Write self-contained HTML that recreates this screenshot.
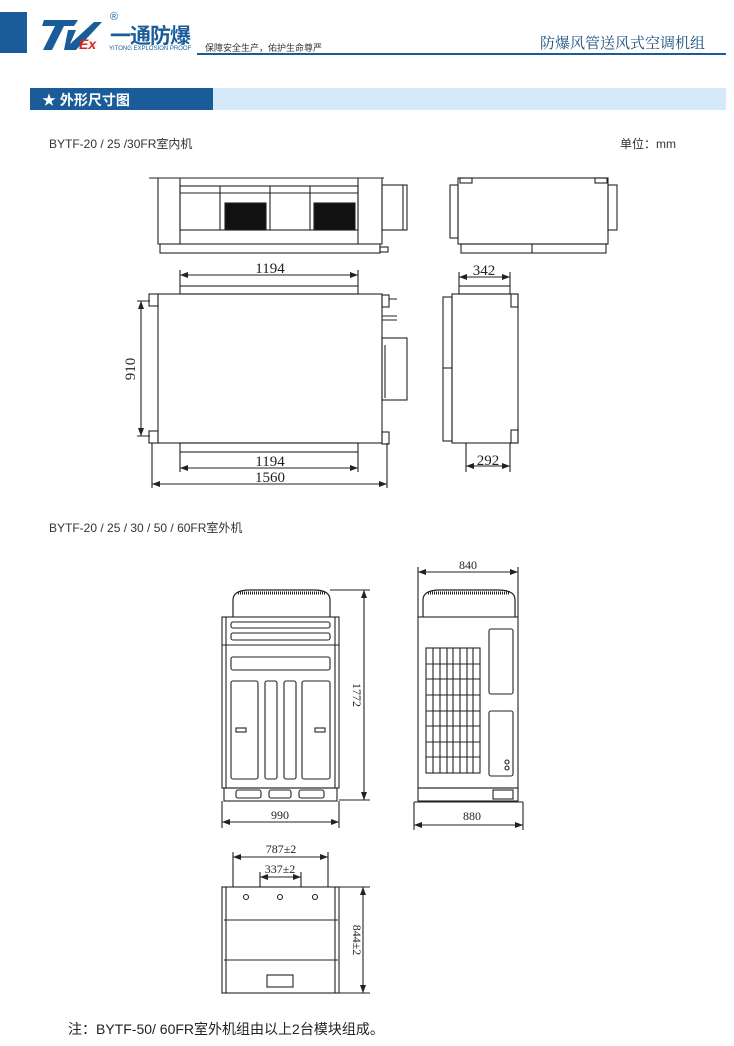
<!DOCTYPE html>
<html><head><meta charset="utf-8"><style>
html,body{margin:0;padding:0;background:#fff;}
body{width:734px;height:1046px;position:relative;overflow:hidden;font-family:"Liberation Sans","Noto Sans CJK SC",sans-serif;}
.a{position:absolute;white-space:nowrap;}
</style></head><body>
<div class="a" style="left:0;top:12px;width:27px;height:41px;background:#1a5c99"></div>
<svg class="a" style="left:40px;top:18px" width="64" height="36"><polygon points="4,2 38,2 34,8 24,8 12,32 3,32 15,8 2,8" fill="#1a5c99"/><polygon points="28,12 36,12 30,26 54,4 62,4 36,32 24,32" fill="#1a5c99"/></svg>
<div class="a" style="left:79px;top:36px;font:italic bold 14px 'Liberation Sans';color:#d9261c">Ex</div>
<div class="a" style="left:110px;top:11px;font-size:11px;color:#1a5c99">®</div>
<div class="a" style="left:110px;top:20px;font-size:21px;font-weight:bold;color:#1a5c99;letter-spacing:-1px">一通防爆</div>
<div class="a" style="left:109px;top:46px;font-size:6px;color:#1a5c99">YITONG EXPLOSION PROOF</div>
<div class="a" style="left:205px;top:41px;font-size:9px;color:#333">保障安全生产，佑护生命尊严</div>
<div class="a" style="left:197px;top:53px;width:529px;height:2px;background:#1a5c99"></div>
<div class="a" style="left:540px;top:32px;font:15px 'Noto Serif CJK SC',serif;color:#1a4f80">防爆风管送风式空调机组</div>
<div class="a" style="left:30px;top:88px;width:183px;height:22px;background:#1a5c99"></div>
<div class="a" style="left:213px;top:88px;width:513px;height:22px;background:#d6e9f8"></div>
<div class="a" style="left:42px;top:90px;font-size:14px;font-weight:bold;color:#fff">★ 外形尺寸图</div>
<div class="a" style="left:49px;top:135px;font-size:12px;color:#333">BYTF-20 / 25 /30FR室内机</div>
<div class="a" style="left:620px;top:135px;font-size:12px;color:#333">单位：mm</div>
<div class="a" style="left:49px;top:519px;font-size:12px;color:#333">BYTF-20 / 25 / 30 / 50 / 60FR室外机</div>
<div class="a" style="left:68px;top:1019px;font-size:14px;color:#222">注：BYTF-50/ 60FR室外机组由以上2台模块组成。</div>
<svg class="a" style="left:0;top:0" width="734" height="1046" fill="none" stroke="#222" stroke-width="1.1">
<defs><marker id="m" markerUnits="userSpaceOnUse" markerWidth="8" markerHeight="6" refX="8" refY="3" orient="auto-start-reverse"><path d="M0,0L8,3L0,6z" fill="#222" stroke="none"/></marker></defs>
<g font-family="Liberation Serif" font-size="15" fill="#222" stroke="none" text-anchor="middle">
<text x="270" y="273">1194</text><text x="270" y="466">1194</text><text x="270" y="482">1560</text>
<text x="484" y="275">342</text><text x="488" y="465">292</text>
<text x="135" y="369" transform="rotate(-90 135 369)">910</text>
</g>
<g font-family="Liberation Serif" font-size="12" fill="#222" stroke="none" text-anchor="middle">
<text x="468" y="569">840</text><text x="280" y="819">990</text><text x="472" y="820">880</text>
<text x="281" y="853">787±2</text><text x="280" y="873">337±2</text>
<text x="353" y="695" transform="rotate(90 353 695)">1772</text>
<text x="353" y="940" transform="rotate(90 353 940)">844±2</text>
</g>
<g marker-start="url(#m)" marker-end="url(#m)">
<path d="M180,275H358"/><path d="M141,301V436"/><path d="M180,468H358"/><path d="M152,484H387"/>
<path d="M459,277H510"/><path d="M466,466H510"/>
<path d="M364,590V800"/><path d="M222,822H339"/><path d="M418,572H518"/><path d="M414,825H523"/>
<path d="M233,857H328"/><path d="M260,877H301"/><path d="M363,887V993"/>
</g>
<path d="M180,270V286M358,270V286M137,301H150M137,436H150M180,452V472M358,452V472M152,443V488M387,443V488M459,272V286M510,272V286M466,443V472M510,443V472"/>
<path d="M330,590H370M339,800H370M222,801V828M339,801V828M418,567V617M518,567V617M414,802V830M523,802V830M233,852V887M328,852V887M260,872V887M301,872V887M339,887H370M339,993H370"/>
<path d="M149,178H384M158,178V244H382V178"/>
<rect x="180" y="186" width="178" height="44"/><path d="M180,178V244M358,178V244M220,186V230M270,186V230M310,186V230M180,193H358"/>
<rect x="225" y="203" width="41" height="27" fill="#111"/><rect x="314" y="203" width="41" height="27" fill="#111"/>
<rect x="160" y="244" width="220" height="9"/><rect x="382" y="185" width="25" height="45"/><path d="M403,185V230"/><rect x="380" y="247" width="8" height="5"/>
<rect x="458" y="178" width="150" height="66"/><rect x="450" y="185" width="8" height="53"/><rect x="608" y="185" width="9" height="45"/>
<rect x="461" y="244" width="145" height="9"/><path d="M532,244V253"/><rect x="460" y="178" width="12" height="5"/><rect x="595" y="178" width="12" height="5"/>
<rect x="158" y="294" width="224" height="149"/><rect x="180" y="286" width="178" height="8"/><rect x="180" y="443" width="178" height="9"/>
<rect x="149" y="294" width="9" height="12"/><rect x="149" y="431" width="9" height="12"/><rect x="382" y="295" width="7" height="12"/><rect x="382" y="432" width="7" height="12"/>
<path d="M389,299H397M382,316H397M382,320H397"/><rect x="382" y="338" width="25" height="62"/><path d="M385,345V398"/>
<rect x="452" y="294" width="66" height="149"/><rect x="443" y="297" width="9" height="144"/><path d="M443,368H452"/><rect x="459" y="286" width="51" height="8"/>
<rect x="511" y="294" width="7" height="13"/><rect x="511" y="430" width="7" height="13"/>
<path d="M233,617V600Q233,590 250,590H314Q330,590 330,600V617" stroke-width="1.2"/><path d="M238,593H326" stroke-width="3" stroke-dasharray="1,1"/>
<rect x="222" y="617" width="117" height="171"/><path d="M226,617V788M335,617V788M222,645H339"/>
<rect x="231" y="622" width="99" height="6" rx="2"/><rect x="231" y="633" width="99" height="7" rx="2"/><rect x="231" y="657" width="99" height="13" rx="2"/>
<rect x="231" y="681" width="27" height="98" rx="2"/><rect x="265" y="681" width="12" height="98" rx="2"/><rect x="284" y="681" width="12" height="98" rx="2"/><rect x="302" y="681" width="28" height="98" rx="2"/>
<rect x="236" y="728" width="10" height="4"/><rect x="315" y="728" width="10" height="4"/>
<rect x="224" y="788" width="113" height="13"/><rect x="236" y="790" width="25" height="8" rx="2"/><rect x="269" y="790" width="22" height="8" rx="2"/><rect x="299" y="790" width="25" height="8" rx="2"/>
<path d="M423,617V600Q423,590 440,590H498Q515,590 515,600V617" stroke-width="1.2"/><path d="M428,593H510" stroke-width="3" stroke-dasharray="1,1"/>
<rect x="418" y="617" width="100" height="171"/>
<rect x="426" y="648" width="54" height="125"/>
<path d="M433,648V773M440,648V773M447,648V773M453,648V773M460,648V773M467,648V773M473,648V773M426,664H480M426,679H480M426,695H480M426,711H480M426,726H480M426,742H480M426,757H480"/>
<rect x="489" y="629" width="24" height="65" rx="2"/><rect x="489" y="711" width="24" height="65" rx="2"/>
<circle cx="507" cy="762" r="2"/><circle cx="507" cy="768" r="2"/>
<rect x="418" y="788" width="100" height="13"/><rect x="493" y="790" width="20" height="9"/><path d="M414,802H523"/>
<rect x="222" y="887" width="117" height="106"/><path d="M226,887V993M335,887V993M224,920H338M224,960H338"/>
<circle cx="246" cy="897" r="2.5"/><circle cx="280" cy="897" r="2.5"/><circle cx="315" cy="897" r="2.5"/><rect x="267" y="975" width="26" height="12"/>
</svg>
</body></html>
